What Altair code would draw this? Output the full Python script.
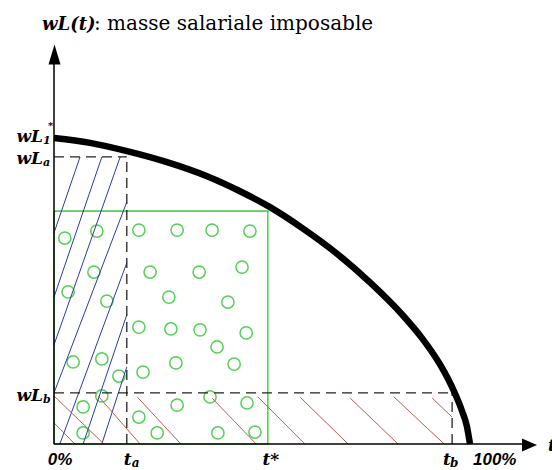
import altair as alt
import pandas as pd

# Taxable wage bill wL(t) as a function of the tax rate t (wL normalised so wL1* = 1)
curve_t = [0.0, 0.0865, 0.1755, 0.2716, 0.3678, 0.4471, 0.5192, 0.5986, 0.6803,
           0.7596, 0.8389, 0.8846, 0.9279, 0.9471, 0.9639, 0.9808, 0.9928, 1.0]
curve_wl = [1.0, 0.984, 0.957, 0.921, 0.875, 0.826, 0.774, 0.704, 0.622,
            0.528, 0.420, 0.346, 0.260, 0.213, 0.165, 0.108, 0.056, 0.0]

# Reference rates and the matching wage bills
t_a, wl_a = 0.175, 0.938
t_star, wl_star = 0.514, 0.761
t_b, wl_b = 0.957, 0.167

# Open circles filling the revenue rectangle at t*
circle_t = [0.026, 0.103, 0.204, 0.296, 0.380, 0.471, 0.096, 0.231, 0.349, 0.452,
            0.034, 0.127, 0.276, 0.418, 0.204, 0.281, 0.351, 0.462, 0.392, 0.046,
            0.115, 0.293, 0.433, 0.214, 0.156, 0.115, 0.375, 0.296, 0.464, 0.070,
            0.204, 0.070, 0.248, 0.394, 0.483]
circle_wl = [0.673, 0.696, 0.699, 0.699, 0.699, 0.696, 0.562, 0.562, 0.562, 0.578,
             0.497, 0.467, 0.480, 0.464, 0.382, 0.376, 0.373, 0.363, 0.317, 0.268,
             0.278, 0.265, 0.261, 0.235, 0.222, 0.157, 0.154, 0.127, 0.134, 0.121,
             0.088, 0.036, 0.036, 0.036, 0.039]

# Blue hatching of the revenue rectangle at t_a (segment end points)
blue_t1 = [0.0, 0.0, 0.0, 0.0, 0.014, 0.070, 0.115]
blue_wl1 = [0.690, 0.480, 0.324, 0.167, 0.0, 0.0, 0.0]
blue_t2 = [0.0625, 0.115, 0.159, 0.175, 0.175, 0.175, 0.175]
blue_wl2 = [0.938, 0.938, 0.938, 0.791, 0.592, 0.422, 0.252]

# Red hatching of the revenue rectangle at t_b (segment end points)
red_t1 = [0.0, 0.0, 0.106, 0.200, 0.380, 0.490, 0.591, 0.712, 0.817, 0.909]
red_wl1 = [0.069, 0.157, 0.157, 0.154, 0.150, 0.154, 0.154, 0.150, 0.154, 0.150]
red_t2 = [0.050, 0.120, 0.207, 0.305, 0.486, 0.603, 0.707, 0.827, 0.938, 0.957]
red_wl2 = [0.0, 0.0, 0.0, 0.0, 0.0, 0.0, 0.0, 0.0, 0.0, 0.088]

GREEN = "#55d055"
BLUE = "#2b3aa6"
RED = "#bf5a55"
SERIF = "DejaVu Serif, Liberation Serif, serif"
SANS = "Liberation Sans, Arial, sans-serif"

X = alt.Scale(domain=[0, 1], range=[54, 470], nice=False, zero=False)
Y = alt.Scale(domain=[0, 1], range=[444, 138], nice=False, zero=False)


def xq(field):
    return alt.X(field, type="quantitative", scale=X, axis=None)


def yq(field):
    return alt.Y(field, type="quantitative", scale=Y, axis=None)


curve_df = pd.DataFrame({"t": curve_t, "wl": curve_wl})
circle_df = pd.DataFrame({"t": circle_t, "wl": circle_wl})
blue_df = pd.DataFrame({"t1": blue_t1, "wl1": blue_wl1, "t2": blue_t2, "wl2": blue_wl2})
red_df = pd.DataFrame({"t1": red_t1, "wl1": red_wl1, "t2": red_t2, "wl2": red_wl2})
dash_df = pd.DataFrame({
    "t1": [0.0, t_a, 0.0, t_b],
    "wl1": [wl_a, 0.0, wl_b, 0.0],
    "t2": [t_a, t_a, t_b, t_b],
    "wl2": [wl_a, wl_a, wl_b, wl_b],
})
rect_df = pd.DataFrame({"t1": [0.0], "wl1": [0.0], "t2": [t_star], "wl2": [wl_star]})
one = pd.DataFrame({"k": [0]})


def segments(df, **mark):
    return alt.Chart(df).mark_rule(**mark).encode(
        x=xq("t1"), x2="t2", y=yq("wl1"), y2="wl2"
    )


green_rect = alt.Chart(rect_df).mark_rect(
    fillOpacity=0, stroke=GREEN, strokeWidth=1.6
).encode(x=xq("t1"), x2="t2", y=yq("wl1"), y2="wl2")

circles = alt.Chart(circle_df).mark_point(
    shape="circle", filled=False, size=150, stroke=GREEN, strokeWidth=1.5, opacity=1
).encode(x=xq("t"), y=yq("wl"))

blue_hatch = segments(blue_df, color=BLUE, strokeWidth=1)
red_hatch = segments(red_df, color=RED, strokeWidth=1)
dashes = segments(dash_df, color="#222222", strokeWidth=1.3, strokeDash=[10, 6])

curve = alt.Chart(curve_df).mark_line(
    color="black", strokeWidth=6.5, interpolate="monotone"
).encode(x=xq("t"), y=yq("wl"))

y_axis = alt.Chart(one).mark_rule(color="black", strokeWidth=1.5).encode(
    x=alt.value(54), y=alt.value(444), y2=alt.value(62)
)
x_axis = alt.Chart(one).mark_rule(color="black", strokeWidth=1.5).encode(
    x=alt.value(54), x2=alt.value(524), y=alt.value(444)
)
y_arrow = alt.Chart(one).mark_point(
    shape="M0,-1L0.6,1L-0.6,1Z", filled=True, color="black", size=400, opacity=1
).encode(x=alt.value(54.5), y=alt.value(54.5))
x_arrow = alt.Chart(one).mark_point(
    shape="M1,0L-1,-0.87L-1,0.87Z", filled=True, color="black", size=225, opacity=1
).encode(x=alt.value(529.5), y=alt.value(445))


def text(s, x, y, size, font=SERIF, style="italic", weight="bold", align="left",
         baseline="alphabetic", dx=0, dy=0):
    return alt.Chart(one).mark_text(
        text=s, font=font, fontSize=size, fontStyle=style, fontWeight=weight,
        align=align, baseline=baseline, dx=dx, dy=dy, color="black"
    ).encode(x=x, y=y)


def tx(v):
    return alt.X(datum=v, type="quantitative", scale=X, axis=None)


def wy(v):
    return alt.Y(datum=v, type="quantitative", scale=Y, axis=None)


labels = [
    # title of the vertical axis
    text("wL(t)", alt.value(42), alt.value(30), 18),
    text(": masse salariale imposable", alt.value(94), alt.value(30), 20,
         style="normal", weight="normal"),
    # vertical axis labels
    text("wL", alt.value(43), wy(1.0), 17, align="right", baseline="middle", dy=-1),
    text("1", alt.value(43), wy(1.0), 11, baseline="middle", dy=3),
    text("*", alt.value(48), wy(1.0), 10, baseline="middle", dy=-12),
    text("wL", alt.value(43), wy(wl_a), 17, align="right", baseline="middle", dy=2),
    text("a", alt.value(43), wy(wl_a), 11, baseline="middle", dy=6),
    text("wL", alt.value(43), wy(wl_b), 17, align="right", baseline="middle", dy=3),
    text("b", alt.value(43), wy(wl_b), 11, baseline="middle", dy=7),
    # horizontal axis labels
    text("0%", tx(0.0), alt.value(465), 17, font=SANS, align="center", dx=6),
    text("t", tx(t_a), alt.value(465), 17, dx=-3),
    text("a", tx(t_a), alt.value(467), 12, dx=5),
    text("t*", tx(t_star), alt.value(465), 17, align="center", dx=3),
    text("t", tx(t_b), alt.value(465), 17, dx=-9),
    text("b", tx(t_b), alt.value(467), 12, dx=-2),
    text("100%", tx(1.0), alt.value(465), 17, font=SANS, dx=3),
    text("t", alt.value(548), alt.value(451), 17),
]

chart = alt.layer(
    green_rect, circles, blue_hatch, red_hatch, dashes,
    y_axis, x_axis, curve, y_arrow, x_arrow, *labels
).properties(
    width=552, height=470, padding=0, autosize=alt.AutoSizeParams(type="none")
).configure_view(stroke=None)

chart.save("out.html", embed_options={"renderer": "svg", "actions": False})
